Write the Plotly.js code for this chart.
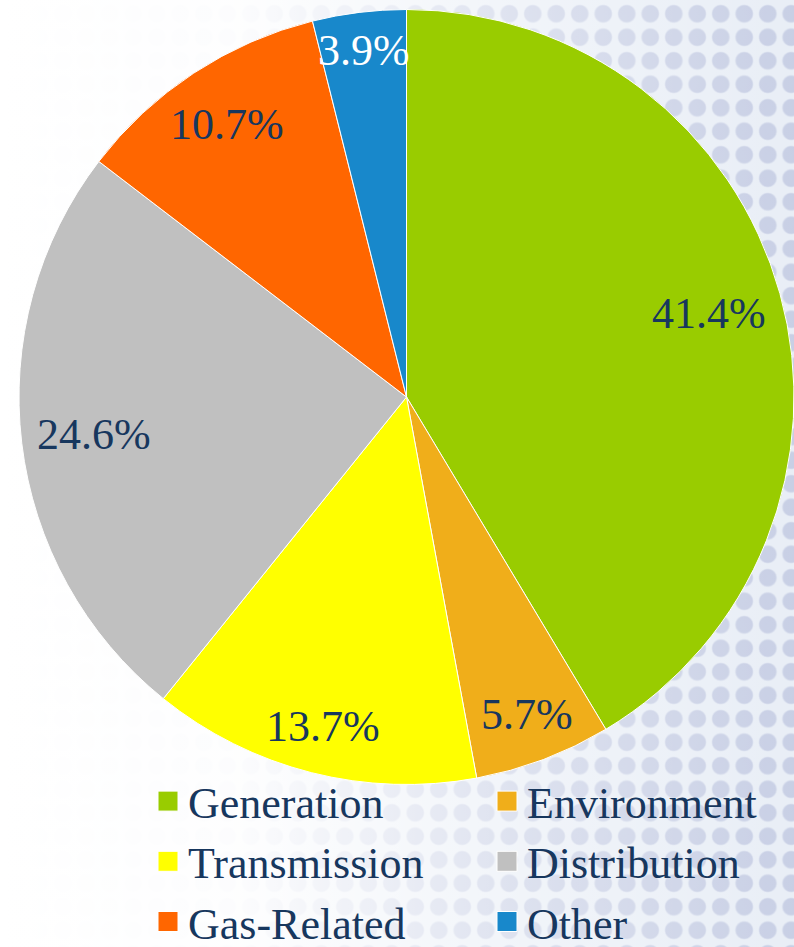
<!DOCTYPE html>
<html>
<head>
<meta charset="utf-8">
<script src="https://cdn.plot.ly/plotly-3.0.1.min.js"></script>
<style>
  body {
    margin: 0;
    width: 794px; height: 947px;
    background-color: #e6ecf5;
    background-image:
      linear-gradient(to right, rgba(255,255,255,1) 0%, rgba(255,255,255,0.95) 30%, rgba(255,255,255,0.45) 65%, rgba(255,255,255,0.1) 100%),
      radial-gradient(circle, rgba(190,198,224,0.9) 0px, rgba(190,198,224,0.9) 8px, rgba(230,236,245,0) 9.5px);
    background-size: 794px 947px, 23.5px 23.5px;
    background-position: 0 0, 4px 2px;
  }
  #preload { position: absolute; left: -3000px; top: 0; font: 44px "Times New Roman"; }
</style>
</head>
<body>
<div id="preload">0123456789.% Generation Environment Transmission Distribution Gas-Related Other</div>
<div id="chart" style="width:794px;height:947px"></div>
<script>
// ---- data ----
const categories = ["Generation", "Environment", "Transmission", "Distribution", "Gas-Related", "Other"];
const shares = [41.4, 5.7, 13.7, 24.6, 10.7, 3.9];
const sliceColors = ["#99cc00", "#f0ae1a", "#ffff00", "#c0c0c0", "#ff6600", "#1888cb"];
const labelColors = ["#17375e", "#17375e", "#17375e", "#17375e", "#17375e", "#ffffff"];

// ---- layout constants ----
const W = 794, H = 947;
const FONT = "Times New Roman";
const NAVY = "#17375e";
const LABEL_SIZE = 44;
const domX = [19 / W, 1];
const domY = [(H - 785) / H, (H - 9) / H];

// pie geometry in pixels (Plotly: radius = half of the smaller domain side)
const dwPx = (domX[1] - domX[0]) * W, dhPx = (domY[1] - domY[0]) * H;
const R = Math.min(dwPx, dhPx) / 2;
const cxPx = (domX[0] + domX[1]) / 2 * W;
const cyPx = H - (domY[0] + domY[1]) / 2 * H;   // from top

// approximate Times advance widths (em) for label characters
function textWidth(s, size) {
  let w = 0;
  for (const ch of s) w += (ch === "." ? 0.25 : ch === "%" ? 0.833 : 0.5);
  return w * size;
}

const total = shares.reduce((a, b) => a + b, 0);
const edgeGap = 14;
let cum = 0;
const annotations = shares.map((v, i) => {
  const mid = (cum + v / 2) / total * 2 * Math.PI; cum += v;
  const dx = Math.sin(mid), dy = -Math.cos(mid);
  const txt = v.toFixed(1) + "%";
  const a = textWidth(txt, LABEL_SIZE) / 2, b = LABEL_SIZE * 0.38;
  const B = a * Math.abs(dx) + b * Math.abs(dy);
  const C = a * a + b * b - (R - edgeGap) * (R - edgeGap);
  const rho = -B + Math.sqrt(B * B - C);
  const px = cxPx + rho * dx, py = cyPx + rho * dy;
  return {
    x: px / W, y: 1 - py / H, xref: "paper", yref: "paper",
    xanchor: "center", yanchor: "middle", showarrow: false,
    text: txt, font: {family: FONT, size: LABEL_SIZE, color: labelColors[i]}
  };
});

const trace = {
  type: "pie",
  labels: categories,
  values: shares,
  sort: false,
  direction: "clockwise",
  rotation: 0,
  textinfo: "none",
  hoverinfo: "none",
  marker: {colors: sliceColors, line: {color: "#ffffff", width: 1}},
  domain: {x: domX, y: domY}
};

const layout = {
  width: W, height: H,
  margin: {l: 0, r: 0, t: 0, b: 0, autoexpand: false},
  paper_bgcolor: "rgba(0,0,0,0)",
  plot_bgcolor: "rgba(0,0,0,0)",
  showlegend: true,
  legend: {
    orientation: "h",
    x: 148 / W, xanchor: "left",
    y: 1 - 766 / H, yanchor: "top",
    entrywidth: 294,
    bgcolor: "rgba(0,0,0,0)",
    font: {family: FONT, size: 44, color: NAVY},
    traceorder: "normal"
  },
  annotations: annotations
};

Plotly.newPlot("chart", [trace], layout, {staticPlot: true, displayModeBar: false}).then(() => {
  document.querySelectorAll(".legendpoints path").forEach(p => p.setAttribute("d", "M10,10H-10V-10H10Z"));
});
</script>
</body>
</html>
